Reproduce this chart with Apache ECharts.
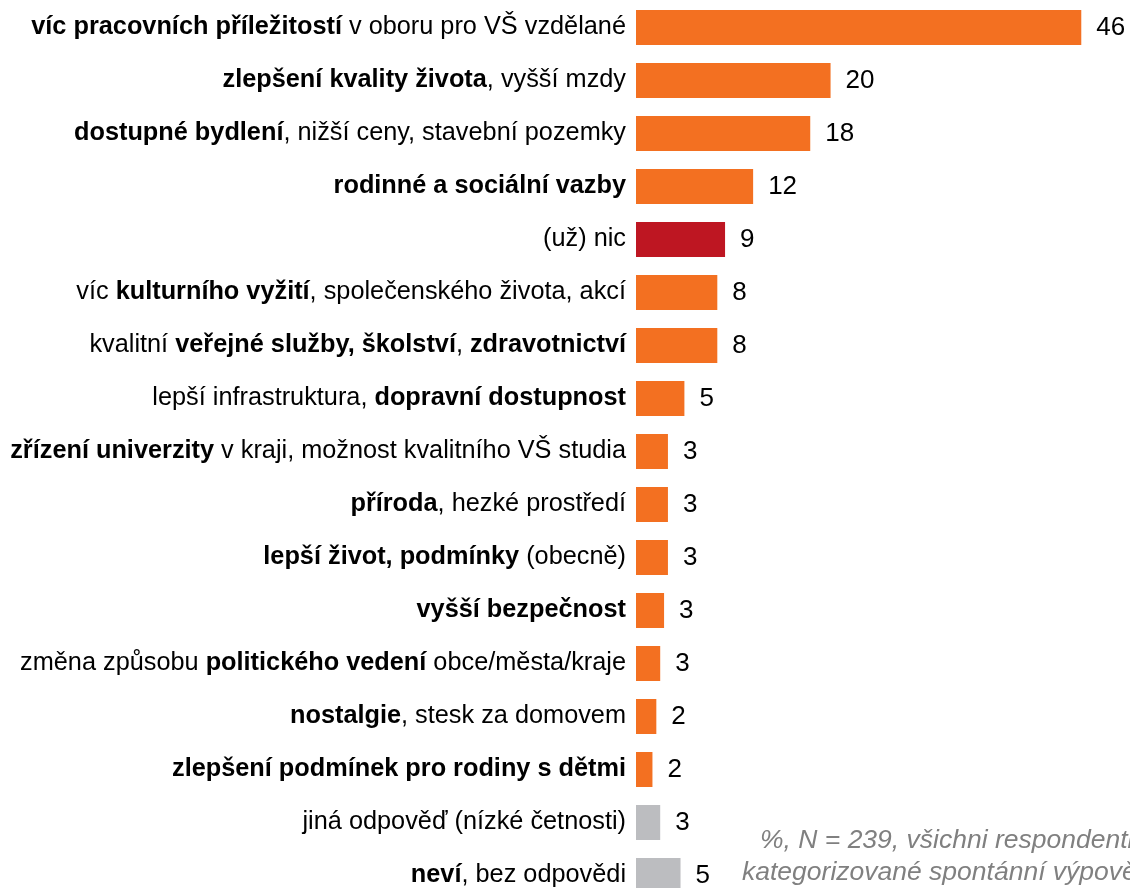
<!DOCTYPE html>
<html>
<head>
<meta charset="utf-8">
<script src="https://cdn.jsdelivr.net/npm/echarts@6/dist/echarts.min.js"></script>
<style>
  html, body { margin: 0; padding: 0; background: #fff; overflow: hidden; }
  /* graf je vyšší než okno – poslední sloupec je v originále oříznutý */
  #chart { width: 1130px; height: 902px; }
</style>
</head>
<body>
<div id="chart"></div>
<script>
// kategorie: tučná část je ohraničena **
const categories = [
  '**víc pracovních příležitostí** v oboru pro VŠ vzdělané',
  '**zlepšení kvality života**, vyšší mzdy',
  '**dostupné bydlení**, nižší ceny, stavební pozemky',
  '**rodinné a sociální vazby**',
  '(už) nic',
  'víc **kulturního vyžití**, společenského života, akcí',
  'kvalitní **veřejné služby, školství**, **zdravotnictví**',
  'lepší infrastruktura, **dopravní dostupnost**',
  '**zřízení univerzity** v kraji, možnost kvalitního VŠ studia',
  '**příroda**, hezké prostředí',
  '**lepší život, podmínky** (obecně)',
  '**vyšší bezpečnost**',
  'změna způsobu **politického vedení** obce/města/kraje',
  '**nostalgie**, stesk za domovem',
  '**zlepšení podmínek pro rodiny s dětmi**',
  'jiná odpověď (nízké četnosti)',
  '**neví**, bez odpovědi'
];
// hodnoty v % (N = 239)
const values = [46.0, 20.1, 18.0, 12.1, 9.2, 8.4, 8.4, 5.0, 3.3, 3.3, 3.3, 2.9, 2.5, 2.1, 1.7, 2.5, 4.6];
// typ sloupce: a = běžná odpověď, n = nic, o = ostatní
const kinds = ['a', 'a', 'a', 'a', 'n', 'a', 'a', 'a', 'a', 'a', 'a', 'a', 'a', 'a', 'a', 'o', 'o'];
const noteLines = ['%, N = 239, všichni respondenti', 'kategorizované spontánní výpovědi'];

const colors = {a: '#F37021', n: '#BE1622', o: '#BCBDC0'};
const FONT = '"Liberation Sans", Arial, sans-serif';

function toRich(str) {
  return str.split('**').map((part, i) => {
    if (!part) return '';
    return (i % 2 === 1 ? '{b|' : '{n|') + part + '}';
  }).join('');
}

const chart = echarts.init(document.getElementById('chart'));

const option = {
  backgroundColor: '#fff',
  animation: false,
  grid: {left: 636, right: 10, top: 1, bottom: 0},
  xAxis: {
    type: 'value',
    min: 0,
    max: 50,
    show: false
  },
  yAxis: {
    type: 'category',
    inverse: true,
    data: categories,
    axisLine: {show: false},
    axisTick: {show: false},
    splitLine: {show: false},
    axisLabel: {
      margin: 10,
      formatter: (v) => toRich(v),
      rich: {
        b: {fontFamily: FONT, fontSize: 25.3, fontWeight: 'bold', color: '#000'},
        n: {fontFamily: FONT, fontSize: 25.3, color: '#000'}
      }
    }
  },
  series: [
    {
      type: 'bar',
      barWidth: 35,
      data: values.map((v, i) => ({
        value: v,
        itemStyle: {color: colors[kinds[i]]}
      })),
      label: {
        show: true,
        position: 'right',
        distance: 15,
        fontFamily: FONT,
        fontSize: 26,
        color: '#000',
        formatter: (p) => Math.round(p.value)
      }
    }
  ],
  graphic: [
    {
      type: 'text',
      left: 760,
      top: 827,
      style: {text: noteLines[0], font: 'italic 26.5px ' + FONT, fill: '#808080'}
    },
    {
      type: 'text',
      left: 742,
      top: 859,
      style: {text: noteLines[1], font: 'italic 26.5px ' + FONT, fill: '#808080'}
    }
  ]
};

chart.setOption(option);
</script>
</body>
</html>
